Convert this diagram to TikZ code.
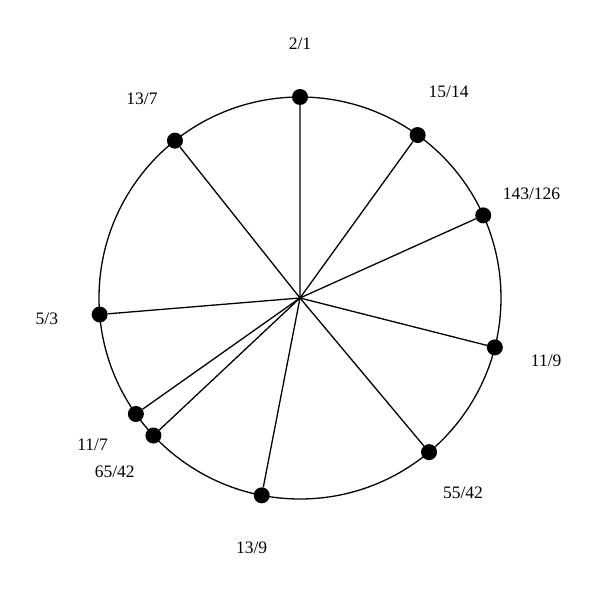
\documentclass[tikz,border=0pt]{standalone}
\usepackage{fontspec}
\setmainfont{Liberation Serif}
\usetikzlibrary{calc}
\begin{document}
\begin{tikzpicture}[x=1pt,y=1pt,
  dotnode/.style={circle,fill=black,inner sep=0pt,minimum size=16pt},
  ratiolabel/.style={font=\fontsize{17.5}{20}\selectfont,inner sep=0pt},
  spoke/.style={line width=1.3pt},
  rim/.style={line width=1.3pt}]
\useasboundingbox (0,0) rectangle (600,600);
\coordinate (c) at (300,302);
\draw[rim] (c) circle (201);
\foreach \n/\num/\den in {a/2/1, b/15/14, c2/143/126, d/11/9, e/55/42, f/13/9, g/65/42, h/11/7, i/5/3, j/13/7}{
  \pgfmathsetmacro{\ang}{90-360*ln(\num/\den)/ln(2)}
  \node[dotnode] (p\n) at ($(c)+(\ang:201)$) {};
  \draw[spoke] (c) -- (p\n);
  \node[ratiolabel] (l\n) at ($(c)+(\ang:254)$) {\num/\den};
}
\end{tikzpicture}
\end{document}
